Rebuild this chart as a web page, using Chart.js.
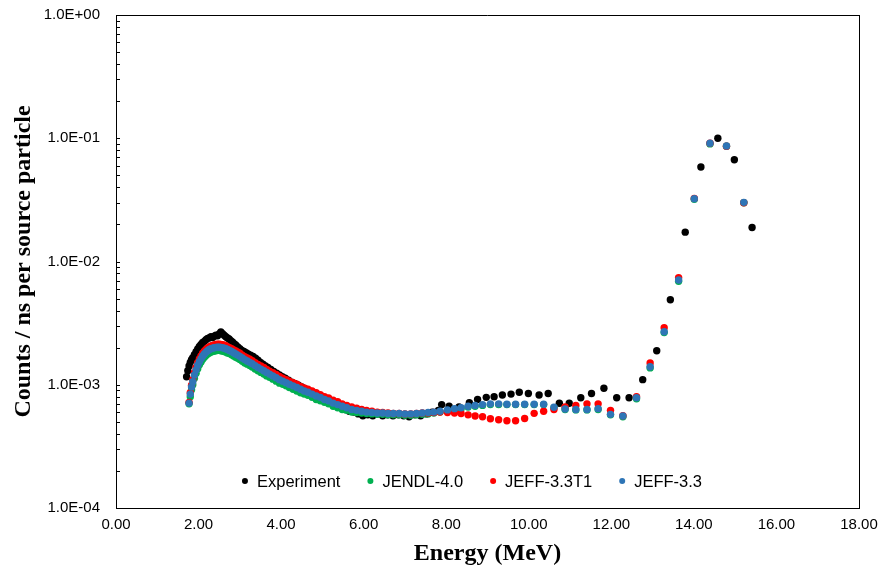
<!DOCTYPE html>
<html>
<head>
<meta charset="utf-8">
<script src="https://cdn.jsdelivr.net/npm/chart.js@4"></script>
<style>
html,body{margin:0;padding:0;background:#fff;}
#wrap{width:880px;height:574px;}
</style>
</head>
<body>
<div id="wrap"><canvas id="c" width="880" height="574"></canvas></div>
<script>
// ---------------- data ----------------
const seriesNames = ['Experiment', 'JENDL-4.0', 'JEFF-3.3T1', 'JEFF-3.3'];
const seriesColors = ['#000000', '#00B050', '#FF0000', '#2E75B6'];

const xTickLabels = ['0.00','2.00','4.00','6.00','8.00','10.00','12.00','14.00','16.00','18.00'];
const xTickValues = [0,2,4,6,8,10,12,14,16,18];
const yTickLabels = ['1.0E-04','1.0E-03','1.0E-02','1.0E-01','1.0E+00'];
const yTickValues = [1e-4,1e-3,1e-2,1e-1,1];

const expEnergy = [
 1.71,1.74,1.77,1.80,1.83,1.86,1.90,1.94,1.98,2.02,2.06,2.10,2.14,2.18,2.22,2.26,2.30,2.34,2.38,2.42,
 2.46,2.50,2.54,2.58,2.62,2.66,2.70,2.74,2.78,2.82,2.86,2.90,2.95,3.00,3.05,3.10,3.15,3.20,3.26,3.32,
 3.38,3.44,3.50,3.56,3.62,3.68,3.75,3.82,3.89,3.96,4.03,4.10,4.18,4.26,4.34,4.42,4.50,4.58,4.67,4.76,
 4.85,4.94,5.03,5.13,5.23,5.33,5.43,5.54,5.65,5.76,5.87,5.98,6.10,6.22,6.34,6.46,6.58,6.71,6.84,6.97,
 7.10,7.24,7.38,7.52,7.66,7.81,7.89,8.07,8.31,8.56,8.76,8.97,9.16,9.36,9.57,9.77,9.99,10.25,10.47,10.74,
 10.98,11.26,11.52,11.82,12.13,12.43,12.76,13.10,13.43,13.79,14.17,14.58,14.98,15.41
];
const expCounts = [
 1.16e-3,1.30e-3,1.42e-3,1.52e-3,1.60e-3,1.66e-3,1.75e-3,1.85e-3,1.95e-3,2.05e-3,2.12e-3,2.20e-3,2.25e-3,2.32e-3,2.38e-3,2.40e-3,2.45e-3,2.42e-3,2.48e-3,2.52e-3,
 2.50e-3,2.58e-3,2.68e-3,2.60e-3,2.52e-3,2.45e-3,2.40e-3,2.35e-3,2.28e-3,2.22e-3,2.15e-3,2.10e-3,2.03e-3,1.96e-3,1.90e-3,1.86e-3,1.82e-3,1.78e-3,1.74e-3,1.70e-3,
 1.64e-3,1.58e-3,1.52e-3,1.47e-3,1.42e-3,1.38e-3,1.33e-3,1.28e-3,1.24e-3,1.20e-3,1.16e-3,1.13e-3,1.09e-3,1.05e-3,1.02e-3,9.9e-4,9.6e-4,9.3e-4,9.0e-4,8.7e-4,
 8.4e-4,8.1e-4,7.8e-4,7.4e-4,7.1e-4,6.8e-4,6.6e-4,6.3e-4,6.1e-4,6.0e-4,5.8e-4,5.6e-4,5.7e-4,5.6e-4,5.8e-4,5.6e-4,5.7e-4,5.6e-4,5.7e-4,5.6e-4,
 5.5e-4,5.7e-4,5.6e-4,5.8e-4,6.0e-4,6.2e-4,6.9e-4,6.7e-4,6.6e-4,7.15e-4,7.6e-4,7.9e-4,8.0e-4,8.26e-4,8.4e-4,8.7e-4,8.5e-4,8.25e-4,8.5e-4,7.07e-4,
 7.07e-4,7.85e-4,8.5e-4,9.36e-4,7.85e-4,7.85e-4,1.10e-3,1.89e-3,4.9e-3,1.73e-2,5.85e-2,1.00e-1,6.7e-2,1.89e-2
];

const simEnergy = [
 1.77,1.80,1.83,1.86,1.90,1.94,1.98,2.02,2.06,2.10,2.14,2.18,2.22,2.26,2.30,2.34,2.38,2.42,2.46,2.50,2.54,2.58,2.62,2.66,2.70,
 2.75,2.80,2.85,2.90,2.95,3.00,3.06,3.12,3.18,3.24,3.30,3.37,3.44,3.51,3.58,3.65,3.72,3.80,3.88,3.96,
 4.04,4.12,4.20,4.29,4.38,4.47,4.56,4.65,4.75,4.85,4.95,5.05,5.15,5.26,5.37,5.48,5.59,5.71,5.83,5.95,
 6.07,6.20,6.33,6.46,6.59,6.72,6.86,7.00,7.14,7.28,7.42,7.56,7.70,
 7.85,8.03,8.20,8.36,8.53,8.70,8.88,9.07,9.27,9.47,9.68,9.90,10.13,10.36,10.61,10.88,11.14,11.41,11.68,11.98,12.28,12.61,12.94,13.28,13.63,14.01,14.39,14.79,15.21
];
const jendlCounts = [
 7.0e-4,8.0e-4,9.1e-4,1.00e-3,1.13e-3,1.24e-3,1.35e-3,1.45e-3,1.53e-3,1.61e-3,1.67e-3,1.73e-3,1.78e-3,1.81e-3,1.84e-3,1.86e-3,1.88e-3,1.89e-3,1.90e-3,1.90e-3,1.89e-3,1.88e-3,1.86e-3,1.84e-3,1.81e-3,
 1.79e-3,1.75e-3,1.71e-3,1.67e-3,1.64e-3,1.60e-3,1.55e-3,1.50e-3,1.47e-3,1.43e-3,1.39e-3,1.34e-3,1.30e-3,1.26e-3,1.22e-3,1.18e-3,1.15e-3,1.11e-3,1.07e-3,1.03e-3,
 1.01e-3,9.8e-4,9.5e-4,9.2e-4,8.9e-4,8.6e-4,8.4e-4,8.2e-4,7.9e-4,7.6e-4,7.4e-4,7.2e-4,7.0e-4,6.7e-4,6.5e-4,6.3e-4,6.2e-4,6.0e-4,5.95e-4,5.9e-4,
 5.85e-4,5.8e-4,5.75e-4,5.75e-4,5.7e-4,5.7e-4,5.7e-4,5.65e-4,5.65e-4,5.7e-4,5.75e-4,5.8e-4,5.9e-4,
 6.0e-4,6.15e-4,6.3e-4,6.4e-4,6.6e-4,6.7e-4,6.8e-4,6.9e-4,6.9e-4,6.9e-4,6.9e-4,6.9e-4,6.9e-4,6.9e-4,6.5e-4,6.3e-4,6.25e-4,6.25e-4,6.3e-4,5.7e-4,5.5e-4,7.7e-4,1.37e-3,2.65e-3,6.9e-3,3.2e-2,9.0e-2,8.6e-2,3.0e-2
];
const jeff33t1Counts = [
 7.2e-4,8.6e-4,9.9e-4,1.10e-3,1.25e-3,1.38e-3,1.51e-3,1.62e-3,1.71e-3,1.80e-3,1.87e-3,1.93e-3,1.99e-3,2.03e-3,2.06e-3,2.08e-3,2.10e-3,2.12e-3,2.13e-3,2.13e-3,2.12e-3,2.11e-3,2.09e-3,2.07e-3,2.04e-3,
 2.00e-3,1.96e-3,1.92e-3,1.88e-3,1.84e-3,1.80e-3,1.74e-3,1.69e-3,1.65e-3,1.61e-3,1.57e-3,1.51e-3,1.46e-3,1.42e-3,1.38e-3,1.33e-3,1.29e-3,1.25e-3,1.21e-3,1.17e-3,
 1.13e-3,1.10e-3,1.07e-3,1.04e-3,1.01e-3,9.7e-4,9.4e-4,9.2e-4,8.9e-4,8.6e-4,8.3e-4,8.0e-4,7.8e-4,7.5e-4,7.3e-4,7.0e-4,6.8e-4,6.6e-4,6.45e-4,6.3e-4,
 6.2e-4,6.1e-4,6.0e-4,5.95e-4,5.9e-4,5.85e-4,5.85e-4,5.8e-4,5.8e-4,5.85e-4,5.9e-4,5.9e-4,5.95e-4,
 6.0e-4,5.95e-4,5.9e-4,5.85e-4,5.7e-4,5.57e-4,5.5e-4,5.3e-4,5.2e-4,5.1e-4,5.1e-4,5.33e-4,5.86e-4,6.1e-4,6.3e-4,6.6e-4,6.8e-4,7.0e-4,7.0e-4,6.2e-4,5.6e-4,8.0e-4,1.5e-3,2.9e-3,7.4e-3,3.25e-2,9.1e-2,8.6e-2,3.0e-2
];
const jeff33Counts = [
 7.1e-4,8.4e-4,9.6e-4,1.06e-3,1.20e-3,1.32e-3,1.44e-3,1.54e-3,1.63e-3,1.71e-3,1.78e-3,1.84e-3,1.89e-3,1.93e-3,1.96e-3,1.98e-3,2.00e-3,2.01e-3,2.02e-3,2.02e-3,2.01e-3,2.00e-3,1.98e-3,1.96e-3,1.93e-3,
 1.90e-3,1.86e-3,1.82e-3,1.78e-3,1.74e-3,1.70e-3,1.65e-3,1.60e-3,1.56e-3,1.52e-3,1.48e-3,1.43e-3,1.38e-3,1.34e-3,1.30e-3,1.26e-3,1.22e-3,1.18e-3,1.14e-3,1.10e-3,
 1.07e-3,1.04e-3,1.01e-3,9.8e-4,9.5e-4,9.2e-4,8.9e-4,8.7e-4,8.4e-4,8.1e-4,7.9e-4,7.6e-4,7.4e-4,7.1e-4,6.9e-4,6.7e-4,6.5e-4,6.3e-4,6.2e-4,6.1e-4,
 6.0e-4,5.95e-4,5.9e-4,5.9e-4,5.85e-4,5.85e-4,5.85e-4,5.8e-4,5.8e-4,5.85e-4,5.9e-4,5.95e-4,6.0e-4,
 6.1e-4,6.25e-4,6.4e-4,6.5e-4,6.7e-4,6.8e-4,6.9e-4,7.0e-4,7.0e-4,6.95e-4,6.95e-4,6.95e-4,6.95e-4,6.95e-4,6.56e-4,6.36e-4,6.3e-4,6.3e-4,6.4e-4,5.75e-4,5.57e-4,7.85e-4,1.40e-3,2.69e-3,7.08e-3,3.23e-2,9.10e-2,8.65e-2,3.02e-2
];

// ---------------- build ----------------
function pts(xs, ys) { return xs.map((x, i) => ({x: x, y: ys[i]})); }
const seriesData = [
  pts(expEnergy, expCounts),
  pts(simEnergy, jendlCounts),
  pts(simEnergy, jeff33t1Counts),
  pts(simEnergy, jeff33Counts)
];
const drawOrder = [3, 2, 1, 0]; // later legend entries on top

const datasets = seriesNames.map((n, i) => ({
  label: n,
  data: seriesData[i],
  backgroundColor: seriesColors[i],
  borderColor: seriesColors[i],
  pointBackgroundColor: seriesColors[i],
  pointBorderWidth: 0,
  pointRadius: 3.7,
  pointHoverRadius: 3.7,
  showLine: false,
  order: drawOrder[i]
}));

const TICK_FONT = {family: '"Liberation Sans", Arial, sans-serif', size: 15};
const TITLE_FONT = {family: '"Liberation Serif", "Times New Roman", serif', size: 24, weight: 'bold'};

const framePlugin = {
  id: 'frame',
  afterDraw(chart) {
    const {ctx, chartArea: a} = chart;
    const ys = chart.scales.y;
    ctx.save();
    ctx.strokeStyle = '#000';
    ctx.lineWidth = 1;
    ctx.beginPath();
    ctx.moveTo(a.left, a.top + 0.5); ctx.lineTo(a.right + 0.5, a.top + 0.5);
    ctx.moveTo(a.right + 0.5, a.top); ctx.lineTo(a.right + 0.5, a.bottom);
    ys.ticks.forEach(t => {
      const py = Math.round(ys.getPixelForValue(t.value)) + 0.5;
      ctx.moveTo(a.left, py); ctx.lineTo(a.left + 4, py);
    });
    ctx.stroke();

    // legend inside the plot area
    ctx.font = '16.5px "Liberation Sans", Arial, sans-serif';
    ctx.textBaseline = 'middle';
    ctx.textAlign = 'left';
    const dotR = 3, dotGap = 12, itemGap = 30;
    const items = chart.data.datasets.map(d => ({t: d.label, c: d.backgroundColor, w: ctx.measureText(d.label).width}));
    let total = 0;
    items.forEach((it, i) => { total += dotGap + it.w + (i ? itemGap : 0); });
    let x = (a.left + a.right) / 2 - 14 - total / 2;
    const y = a.bottom - 27;
    items.forEach(it => {
      ctx.fillStyle = it.c;
      ctx.beginPath(); ctx.arc(x, y, dotR, 0, Math.PI * 2); ctx.fill();
      ctx.fillStyle = '#000';
      ctx.fillText(it.t, x + dotGap, y + 1);
      x += dotGap + it.w + itemGap;
    });
    ctx.restore();
  }
};

new Chart(document.getElementById('c').getContext('2d'), {
  type: 'scatter',
  data: {datasets: datasets},
  options: {
    responsive: false,
    animation: false,
    events: [],
    layout: {padding: {left: 0, right: 21, top: 15, bottom: 0}},
    plugins: {
      legend: {display: false},
      tooltip: {enabled: false}
    },
    scales: {
      x: {
        type: 'linear', min: 0, max: 18,
        afterBuildTicks: s => { s.ticks = xTickValues.map(v => ({value: v})); },
        afterFit: s => { s.height = 66; s.paddingLeft = 0; s.paddingRight = 0; },
        grid: {display: false, drawTicks: false},
        border: {display: true, color: '#000', width: 1},
        ticks: {
          autoSkip: false, maxRotation: 0, padding: 8, color: '#000', font: TICK_FONT,
          callback: (v, i) => xTickLabels[i]
        },
        title: {display: true, text: 'Energy (MeV)', color: '#000', font: TITLE_FONT, padding: {top: 0, bottom: 6}}
      },
      y: {
        type: 'logarithmic', min: 1e-4, max: 1,
        afterBuildTicks: s => {
          const t = [];
          for (let d = 0; d < yTickValues.length; d++) {
            const base = yTickValues[d];
            if (d === yTickValues.length - 1) { t.push({value: base}); break; }
            for (let m = 1; m <= 9; m++) t.push({value: base * m});
          }
          s.ticks = t;
        },
        afterFit: s => { s.width = 116; s.paddingTop = 0; s.paddingBottom = 0; },
        grid: {display: false, drawTicks: false},
        border: {display: true, color: '#000', width: 1},
        ticks: {
          autoSkip: false, padding: 16, color: '#000', font: TICK_FONT,
          callback: function(v) {
            const k = yTickValues.findIndex(b => Math.abs(v / b - 1) < 1e-6);
            return k >= 0 ? yTickLabels[k] : '';
          }
        },
        title: {display: true, text: 'Counts / ns per source particle', color: '#000', font: TITLE_FONT, padding: {top: 9, bottom: 0}}
      }
    }
  },
  plugins: [framePlugin]
});
</script>
</body>
</html>
